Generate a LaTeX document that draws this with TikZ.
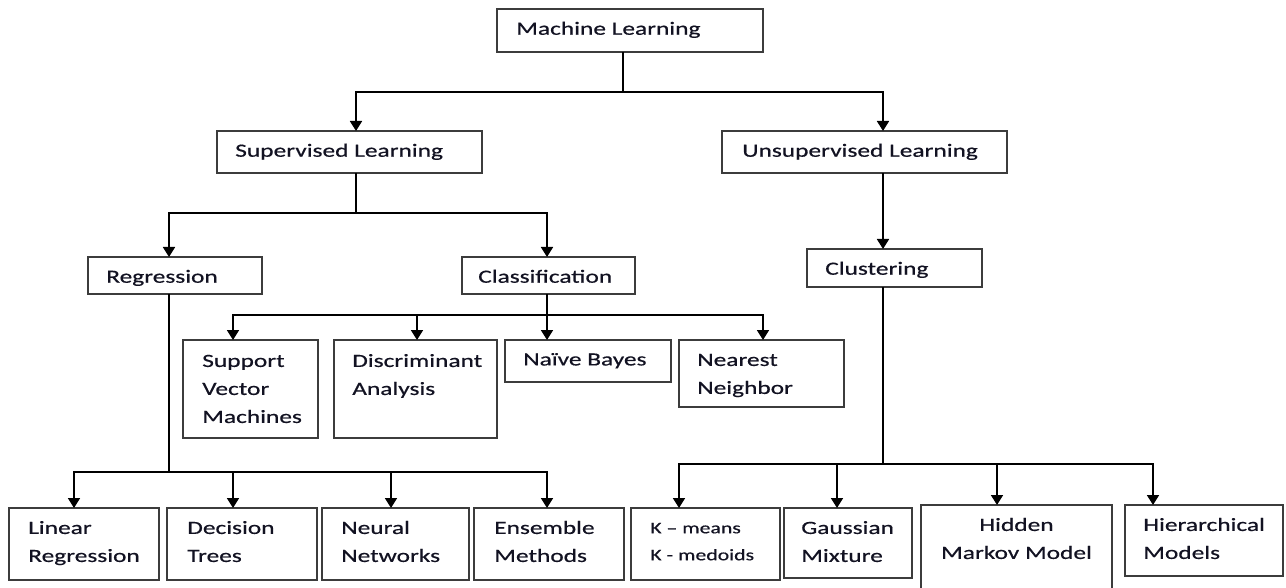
\documentclass[tikz,border=0pt]{standalone}
\usepackage{fontspec}
\setmainfont{Carlito}[FakeStretch=1.36,FakeBold=0.5]
\usetikzlibrary{arrows.meta,calc}

% strut that fixes the height of the first text line
\newcommand\lnhead{\rule{0pt}{14pt}}
% \mlbox{name}{left}{top}{right}{bottom}
\newcommand\mlbox[5]{%
  \node[box, minimum width={(#4-#2)*0.75pt}, minimum height={(#5-#3)*0.75pt}] (#1) at (#2,#3) {};}

\definecolor{boxline}{RGB}{60,60,60}
\definecolor{ink}{RGB}{18,18,34}

\begin{document}
\begin{tikzpicture}[x=0.75pt,y=-0.75pt,
  box/.style={draw=boxline, line width=1.3pt, fill=white, inner sep=0pt,
    outer sep=0pt, anchor=north west, rectangle},
  lbl/.style={anchor=north west, inner sep=0pt, align=left, text=ink,
    font=\fontsize{14}{21}\selectfont},
  lblsmall/.style={lbl, font=\fontsize{12}{20.25}\selectfont},
  wire/.style={line width=1.3pt, black},
  arr/.style={wire, -{Triangle[width=9pt,length=7.5pt]}}]

\clip (0,0) rectangle (1286,588);
\fill[white] (0,0) rectangle (1286,588);

% ---- boxes ----
\mlbox{ml}{497}{9}{763}{52}
\mlbox{sup}{217}{131}{482}{173}
\mlbox{uns}{722}{131}{1007}{173}
\mlbox{reg}{88}{257}{262}{294}
\mlbox{cls}{462}{257}{635}{294}
\mlbox{clu}{807}{249}{982}{287}
\mlbox{svm}{183}{340}{318}{438}
\mlbox{da}{334}{340}{497}{438}
\mlbox{nb}{505}{340}{671}{382}
\mlbox{nn}{679}{340}{844}{407}
\mlbox{lin}{9}{508}{159}{580}
\mlbox{dt}{167}{508}{317}{580}
\mlbox{neu}{322}{508}{469}{580}
\mlbox{ens}{474}{508}{624}{580}
\mlbox{km}{631}{508}{780}{580}
\mlbox{gau}{784}{508}{912}{578}
\mlbox{hmm}{921}{505}{1112}{600}
\mlbox{hier}{1125}{505}{1283}{576}

% ---- labels ----
\node[lbl] (t-ml)  at ($(ml.north west)+(19,6.8)$)  {\lnhead Machine Learning};
\node[lbl] (t-sup) at ($(sup.north west)+(18,6.8)$) {\lnhead Supervised Learning};
\node[lbl] (t-uns) at ($(uns.north west)+(20,6.8)$) {\lnhead Unsupervised Learning};
\node[lbl] (t-reg) at ($(reg.north west)+(18,6.8)$) {\lnhead Regression};
\node[lbl] (t-cls) at ($(cls.north west)+(16,6.8)$) {\lnhead Classification};
\node[lbl] (t-clu) at ($(clu.north west)+(18,6.8)$) {\lnhead Clustering};
\node[lbl] (t-svm) at ($(svm.north west)+(19,8)$) {\lnhead Support\\Vector\\Machines};
\node[lbl] (t-da)  at ($(da.north west)+(18,8)$)  {\lnhead Discriminant\\Analysis};
\node[lbl] (t-nb)  at ($(nb.north west)+(18,6.5)$)  {\lnhead Naïve Bayes};
\node[lbl] (t-nn)  at ($(nn.north west)+(18,7)$)  {\lnhead Nearest\\Neighbor};
\node[lbl] (t-lin) at ($(lin.north west)+(19,7)$) {\lnhead Linear\\Regression};
\node[lbl] (t-dt)  at ($(dt.north west)+(20,7)$)  {\lnhead Decision\\Trees};
\node[lbl] (t-neu) at ($(neu.north west)+(19,7)$) {\lnhead Neural\\Networks};
\node[lbl] (t-ens) at ($(ens.north west)+(20,7)$) {\lnhead Ensemble\\Methods};
\node[lblsmall] (t-km) at ($(km.north west)+(19,6.3)$) {\lnhead K – means\\K - medoids};
\node[lbl] (t-gau) at ($(gau.north west)+(17,7)$) {\lnhead Gaussian\\Mixture};
\node[lbl, anchor=north, align=center] (t-hmm) at ($(hmm.north)+(0,7)$) {\lnhead Hidden\\Markov Model};
\node[lbl] (t-hier) at ($(hier.north west)+(18,7)$) {\lnhead Hierarchical\\Models};

% ---- connectors ----
% Machine Learning -> Supervised / Unsupervised
\coordinate (ml-o) at ($(ml.south west)+(126,0)$);
\coordinate (ml-j) at ($(ml-o)+(0,40)$);
\draw[wire] (ml-o) -- (ml-j);
\draw[arr] (ml-j) -| ($(sup.north west)+(139,0)$);
\draw[arr] (ml-j) -| ($(uns.north west)+(161,0)$);

% Supervised -> Regression / Classification
\coordinate (sup-o) at ($(sup.south west)+(139,0)$);
\coordinate (sup-j) at ($(sup-o)+(0,40)$);
\draw[wire] (sup-o) -- (sup-j);
\draw[arr] (sup-j) -| ($(reg.north west)+(81,0)$);
\draw[arr] (sup-j) -| ($(cls.north west)+(85,0)$);

% Unsupervised -> Clustering
\draw[arr] ($(uns.south west)+(161,0)$) -- ($(clu.north west)+(76,0)$);

% Classification -> its methods
\coordinate (cls-o) at ($(cls.south west)+(85,0)$);
\coordinate (cls-j) at ($(cls-o)+(0,21)$);
\draw[wire] (cls-o) -- (cls-j);
\draw[arr] (cls-j) -| ($(svm.north west)+(50,0)$);
\draw[arr] (cls-j) -| ($(da.north west)+(83,0)$);
\draw[arr] (cls-j) -- ($(nb.north west)+(42,0)$);
\draw[arr] (cls-j) -| ($(nn.north west)+(84,0)$);

% Regression -> its methods
\coordinate (reg-o) at ($(reg.south west)+(81,0)$);
\coordinate (reg-j) at ($(reg-o)+(0,178)$);
\draw[wire] (reg-o) -- (reg-j);
\draw[arr] (reg-j) -| ($(lin.north west)+(65,0)$);
\draw[arr] (reg-j) -| ($(dt.north west)+(66,0)$);
\draw[arr] (reg-j) -| ($(neu.north west)+(69,0)$);
\draw[arr] (reg-j) -| ($(ens.north west)+(73,0)$);

% Clustering -> its methods
\coordinate (clu-o) at ($(clu.south west)+(76,0)$);
\coordinate (clu-j) at ($(clu-o)+(0,177)$);
\draw[wire] (clu-o) -- (clu-j);
\draw[arr] (clu-j) -| ($(km.north west)+(48,0)$);
\draw[arr] (clu-j) -| ($(gau.north west)+(53,0)$);
\draw[arr] (clu-j) -| ($(hmm.north west)+(76,0)$);
\draw[arr] (clu-j) -| ($(hier.north west)+(28,0)$);

\end{tikzpicture}
\end{document}
